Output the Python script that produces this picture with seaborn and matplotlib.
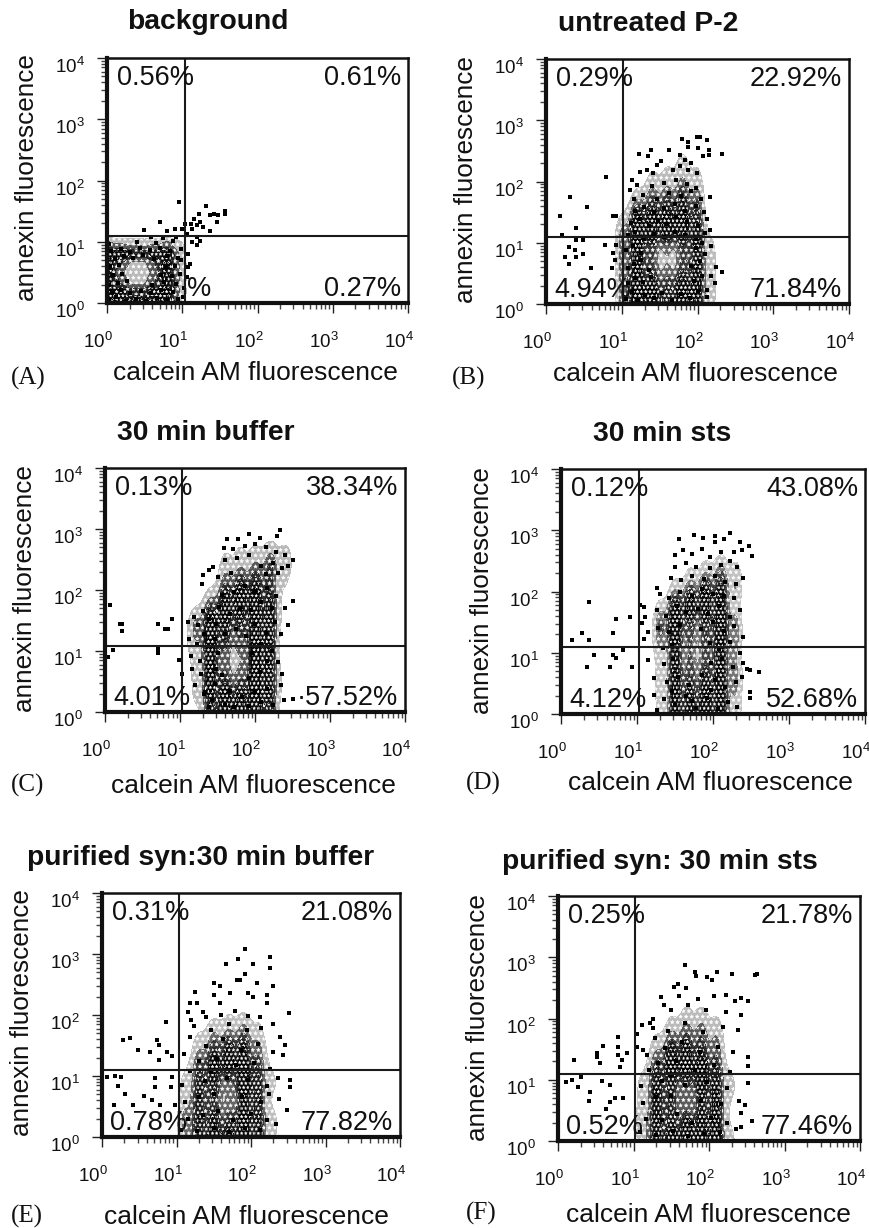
import numpy as np
import pandas as pd
import seaborn as sns
import matplotlib
matplotlib.use("Agg")
import matplotlib.pyplot as plt
from matplotlib.transforms import ScaledTranslation

# values are read from the picture, in channels: 100 channels = one log decade
# (calcein, annexin) for single events, the dense clouds also get a density grid

titoli = ["background", "untreated P-2", "30 min buffer", "30 min sts",
          "purified syn:30 min buffer", "purified syn: 30 min sts"]
lettere = ["(A)", "(B)", "(C)", "(D)", "(E)", "(F)"]

perc_ul = ["0.56%", "0.29%", "0.13%", "0.12%", "0.31%", "0.25%"]
perc_ur = ["0.61%", "22.92%", "38.34%", "43.08%", "21.08%", "21.78%"]
perc_ll = ["%", "4.94%", "4.01%", "4.12%", "0.78%", "0.52%"]
perc_lr = ["0.27%", "71.84%", "·57.52%", "52.68%", "77.82%", "77.46%"]

soglia_x = [104, 102, 103, 102, 103, 102]
soglia_y = [110, 109, 109, 110, 110, 109]

pts_a = [(96,165),(131,159),(157,151),(157,146),(142,146),(148,143),(137,143),(146,132),(122,146),(115,137),
         (124,132),(111,129),(119,127),(128,124),(104,129),(113,121),(137,118),(100,121),(91,121),(71,132),
         (80,118),(49,120),(106,113),(119,108),(124,102),(113,99),(119,94),(108,80),(110,64),(106,42),(108,59),
         (3,5),(12,9),(25,4),(38,7),(52,3),(66,8),(80,5),(94,6),(6,18),(18,22),(31,16),(45,20),(58,17),(72,22),(88,18),
         (2,30),(14,33),(27,36),(60,30),(76,34),(92,31),(8,45),(20,48),(72,46),(86,44),(97,47),(4,60),(16,62),
         (78,58),(90,61),(10,72),(22,76),(34,74),(48,78),(62,72),(80,76),(95,74),(5,85),(18,88),(30,84),(44,90),
         (57,86),(70,89),(84,85),(98,88),(2,97),(40,100),(65,98),(88,101),(75,106),(58,108),(92,108),(98,70),(102,25),(101,10)]
pts_b = [(79,207),(32,175),(54,159),(18,144),(40,124),(89,143),(93,143),(49,105),(31,93),(38,88),(25,77),(40,76),
         (49,82),(31,65),(59,58),(78,96),(89,83),(91,72),(87,58),(40,105),(21,113),(93,96),(216,175),(232,245),(216,121),
         (218,94),(225,61),(223,34),(218,45),(232,53),(212,23),(179,269),(188,265),(199,272),(203,273),(212,268),(201,254),
         (215,252),(215,244),(188,257),(177,244),(163,252),(139,252),(123,245),(135,241),(152,233),(146,227),(133,219),
         (124,215),(113,203),(111,186),(120,195),(141,214),(168,219),(177,225),(188,219),(199,214),(183,235),(192,230),(207,241),
         (106,8),(114,20),(122,6),(131,14),(142,9),(153,18),(166,6),(178,16),(190,10),(201,21),(212,12),(108,34),(118,42),(128,36),
         (139,44),(196,38),(206,46),(108,58),(116,66),(125,72),(136,56),(192,62),(203,70),(210,82),(105,88),(115,95),(126,84),(198,92),
         (206,100),(108,112),(118,118),(130,106),(142,114),(156,110),(170,118),(184,112),(198,106),(210,116),(112,132),(124,138),(136,128),
         (148,136),(160,130),(172,142),(186,134),(200,128),(212,138),(118,152),(130,158),(142,150),(156,156),(170,164),(184,152),(198,160),
         (208,150),(116,172),(128,178),(146,172),(162,182),(178,176),(192,184),(204,172),(140,192),(156,198),(172,202),(186,196),(198,190)]
pts_c = [(20,145),(22,145),(22,133),(70,145),(80,136),(84,136),(89,152),(70,104),(70,97),(11,101),(4,90),(7,176),(99,85),(102,63),
         (133,33),(238,19),(251,22),(244,142),(250,182),(233,298),(192,292),(162,283),(177,283),(207,286),(229,288),(158,269),(129,210),
         (131,224),(144,238),(138,232),(170,268),(186,272),(200,276),(214,270),(228,262),(240,258),(250,250),(244,240),(160,250),(176,252),
         (192,258),(208,240),(224,244),(236,236),(230,228),(214,226),(150,222),(168,228),(110,148),(118,156),(124,142),(130,166),(138,152),
         (112,120),(122,112),(132,128),(114,92),(126,84),(116,70),(128,62),(120,44),(132,30),(138,8),(142,20),(146,46),(148,70),(150,96),
         (146,120),(148,144),(152,172),(156,192),(160,12),(166,34),(172,8),(182,24),(192,10),(200,32),(208,16),(216,38),(224,12),(156,60),
         (192,56),(206,66),(216,84),(196,96),(208,112),(222,100),(160,128),(174,136),(188,124),(200,144),(214,130),(226,148),(166,160),
         (180,170),(194,168),(208,180),(222,170),(234,128),(230,82),(236,62),(172,196),(186,206),(200,198),(216,204),(228,190),(240,170),(235,45)]
pts_d = [(37,183),(72,155),(91,159),(28,133),(15,121),(37,121),(69,133),(81,105),(43,97),(69,96),(72,92),(34,77),(65,77),(93,77),
         (260,68),(249,72),(245,73),(249,36),(249,26),(155,285),(175,292),(187,288),(203,290),(203,281),(214,285),(223,296),(235,281),
         (248,275),(251,258),(238,267),(227,265),(104,178),(109,175),(111,159),(107,148),(126,205),(115,134),(109,123),(115,88),(122,58),
         (122,31),(126,7),(150,260),(160,268),(172,262),(186,270),(196,256),(210,264),(150,240),(164,246),(178,240),(196,238),(210,244),
         (222,250),(232,240),(145,222),(158,218),(172,226),(188,220),(202,226),(216,216),(230,212),(240,222),(130,196),(142,190),(156,200),
         (172,192),(186,204),(200,196),(214,192),(228,190),(126,170),(138,160),(152,176),(164,166),(180,172),(194,164),(208,176),(222,158),
         (236,170),(128,140),(142,134),(156,146),(184,138),(200,150),(214,136),(228,144),(240,126),(134,108),(146,112),(196,116),(208,106),
         (222,118),(236,100),(240,84),(136,82),(148,90),(198,84),(212,90),(226,76),(238,60),(140,52),(154,60),(168,48),(186,64),(202,56),
         (216,44),(230,52),(136,24),(150,14),(164,30),(178,10),(192,26),(206,8),(220,20),(232,12),(146,38),(172,22),(198,40)]
pts_e = [(28,159),(38,163),(48,142),(64,140),(74,159),(76,151),(86,189),(76,127),(87,140),(94,132),(7,99),(18,100),(25,98),(21,83),(31,71),
         (16,52),(42,52),(56,68),(67,60),(78,52),(98,52),(71,96),(71,82),(94,99),(92,82),(252,94),(252,82),(251,204),(248,44),(243,134),(239,164),
         (245,151),(230,186),(192,308),(182,292),(167,284),(203,284),(226,295),(226,277),(229,248),(192,268),(181,258),(185,258),(150,252),
         (158,247),(150,233),(125,237),(118,219),(127,219),(208,252),(221,233),(221,219),(172,236),(196,236),(203,230),(158,219),(116,205),(136,205),
         (106,12),(116,30),(112,58),(108,86),(118,108),(110,136),(118,164),(124,182),(128,10),(136,36),(130,66),(138,92),(130,124),(140,150),
         (146,176),(150,14),(156,42),(150,70),(146,106),(154,128),(162,160),(170,186),(170,8),(176,28),(168,96),(180,118),(186,142),(194,176),
         (192,14),(200,38),(188,66),(196,94),(204,122),(210,152),(214,178),(212,12),(222,28),(214,58),(222,84),(226,112),(230,140),(234,22),
         (238,62),(120,192),(140,196),(160,200),(178,206),(196,198),(212,196),(224,70),(236,96)]
pts_f = [(21,132),(51,143),(51,137),(59,155),(56,128),(79,170),(79,154),(79,140),(91,143),(85,132),(82,121),(18,99),(11,97),(31,104),(27,88),
         (43,80),(41,65),(58,98),(69,92),(75,70),(86,71),(69,64),(64,53),(261,271),(263,272),(168,287),(181,276),(183,269),(197,267),(210,276),
         (230,272),(204,263),(153,252),(159,257),(170,249),(137,235),(140,222),(252,228),(243,233),(234,228),(223,238),(243,205),(239,181),
         (252,137),(252,122),(252,94),(248,59),(243,45),(257,32),(243,23),(111,189),(122,192),(126,200),(126,184),(104,175),(104,154),(113,148),
         (108,14),(116,36),(112,62),(110,90),(120,116),(118,140),(128,168),(130,10),(138,34),(130,72),(138,98),(132,128),(142,152),(146,180),
         (150,214),(152,16),(158,44),(150,74),(148,108),(156,130),(164,162),(168,192),(172,222),(172,8),(178,30),(168,92),(182,116),(188,146),
         (192,178),(196,214),(194,12),(202,38),(190,66),(198,96),(206,124),(212,154),(218,186),(214,14),(224,30),(216,60),(224,86),(228,112),
         (232,146),(236,20),(240,66),(186,232),(160,236),(206,236),(222,210)]
punti = [pts_a, pts_b, pts_c, pts_d, pts_e, pts_f]

griglia_x = [[-20, 0, 20, 40, 60, 80, 100],
             [100, 120, 140, 160, 180, 200, 220, 240],
             [100, 120, 140, 160, 180, 200, 220, 240, 260],
             [110, 130, 150, 170, 190, 210, 230, 250],
             [110, 130, 150, 170, 190, 210, 230, 250],
             [110, 130, 150, 170, 190, 210, 230, 250]]
griglia_y = [[-20, 0, 20, 40, 60, 80, 100],
             [-30, 0, 30, 60, 90, 120, 150, 180, 210, 240, 270],
             [-30, 0, 30, 60, 90, 120, 150, 180, 210, 240, 270],
             [-30, 0, 30, 60, 90, 120, 150, 180, 210, 240, 270],
             [-30, 0, 30, 60, 90, 120, 150, 180, 210],
             [-30, 0, 30, 60, 90, 120, 150, 180, 210, 240]]
# darkness 0-9, first row = lowest annexin (pile-up on the axis)
dens_a = [[9,9,9,9,9,8,3],[9,9,9,9,9,9,5],[9,9,8,7,8,9,5],[9,9,6,4,6,9,5],[9,9,6,4,6,9,5],[9,9,9,8,8,9,5],[4,6,5,5,5,6,4]]
dens_b = [[4,7,7,5,7,6,2,0],[5,8,8,6,8,7,3,0],[5,8,7,6,8,7,3,0],[5,7,5,4,5,7,3,0],[5,7,5,4,5,7,3,0],[5,8,8,8,8,7,2,0],
          [2,7,7,7,7,6,0,0],[1,3,5,5,6,5,0,0],[0,1,3,3,4,3,0,0],[0,0,1,2,3,2,1,0],[0,0,0,0,1,1,0,0]]
dens_c = [[0,1,6,8,8,8,6,0,0],[0,2,7,9,9,9,7,1,0],[1,3,8,9,8,9,8,2,0],[1,3,9,6,5,9,8,2,0],[2,3,9,5,4,9,8,1,0],[1,5,9,7,6,9,8,1,0],
          [1,6,9,8,7,8,8,2,0],[0,1,6,9,9,9,8,2,0],[0,0,1,6,8,8,6,2,0],[0,0,1,4,4,5,7,6,1],[0,0,0,2,3,3,4,3,0]]
dens_d = [[0,2,7,7,8,7,3,0],[1,3,8,8,9,8,4,0],[1,3,8,7,8,8,4,1],[0,4,8,6,7,8,5,1],[1,3,7,5,5,8,4,0],[1,5,8,5,6,8,5,0],
          [1,6,9,6,6,9,5,0],[0,3,8,9,9,8,3,0],[0,0,3,5,7,7,5,1],[0,0,1,2,3,5,3,1],[0,0,0,1,1,1,1,0]]
dens_e = [[4,6,7,7,7,6,2,0],[5,7,8,8,8,7,3,0],[5,7,7,6,8,7,3,1],[4,7,6,4,7,7,2,0],[3,7,7,5,9,7,3,1],[2,6,8,8,8,6,2,0],
          [1,4,6,7,7,5,1,0],[0,2,4,4,5,3,0,0],[0,0,1,2,2,1,0,0]]
dens_f = [[3,6,7,7,7,7,2,0],[4,7,8,8,8,8,3,0],[4,7,6,7,7,7,2,0],[3,7,6,4,6,7,2,0],[3,7,6,5,7,7,3,1],[2,6,8,8,8,6,2,0],
          [1,4,7,7,6,5,1,0],[0,2,4,5,5,4,1,0],[0,0,2,3,3,2,0,0],[0,0,0,1,1,0,0,0]]
densita = [dens_a, dens_b, dens_c, dens_d, dens_e, dens_f]

# pixel boxes x0, x1, top, bottom
W, H = 869, 1228
box = [(107, 408, 58, 303), (546, 849, 59, 304), (105, 405, 468, 712),
       (561, 865, 469, 714), (102, 400, 893, 1137), (558, 860, 896, 1141)]
pos_titolo = [(208, 22), (648, 24), (206, 433), (662, 434), (201, 858), (660, 862)]
pos_xlab = [(255, 373), (695, 374), (253, 786), (710, 783), (246, 1217), (708, 1215)]
pos_ylab = [(27, 178), (466, 180), (25, 589), (482, 591), (22, 1013), (478, 1018)]
pos_lett = [(28, 378), (469, 378), (28, 785), (483, 783), (27, 1216), (481, 1213)]

sns.set_style("white")
plt.rcParams["font.family"] = ["Liberation Sans", "DejaVu Sans"]
plt.rcParams["mathtext.fontset"] = "custom"
plt.rcParams["mathtext.rm"] = "Liberation Sans"
plt.rcParams["hatch.linewidth"] = 0.3
plt.rcParams["hatch.color"] = "white"

fig = plt.figure(figsize=(W / 100, H / 100), dpi=100)

maggiori = [0, 100, 200, 300, 400]
minori = [d + 100 * np.log10(k) for d in [0, 100, 200, 300] for k in range(2, 10)]
etichette = [r"$\mathregular{10^{%d}}$" % i for i in range(5)]
punteggio = ["***", "***", "***", "****", "****", "****", "****"]
toni = sns.blend_palette(["#f0f0f0", "#a0a0a0", "#404040", "#0c0c0c", "#000000"], as_cmap=True)


def testo(xy, s, **kw):
    fig.text(xy[0] / W, 1 - xy[1] / H, s, ha="center", va="center", **kw)


for i in range(6):
    x0, x1, top, bottom = box[i]
    ax = fig.add_axes([x0 / W, 1 - bottom / H, (x1 - x0) / W, (bottom - top) / H])

    # the cloud: speckled underlay from the density grid
    griglia = pd.DataFrame(densita[i], index=griglia_y[i], columns=griglia_x[i])
    griglia = griglia.stack().reset_index()
    griglia.columns = ["annexin", "calcein", "peso"]
    griglia = griglia[griglia["peso"] > 0]
    sns.kdeplot(data=griglia, x="calcein", y="annexin", weights="peso", fill=True,
                cmap=toni, levels=7, thresh=0.1, bw_adjust=0.45,
                ax=ax, clip=((-40, 400), (-40, 400)))
    ax.collections[-1].hatches = punteggio

    # single events
    df = pd.DataFrame(punti[i], columns=["calcein", "annexin"])
    sns.scatterplot(data=df, x="calcein", y="annexin", marker="s", s=5, color="black",
                    linewidth=0, ax=ax, zorder=3, clip_on=True)

    ax.axvline(soglia_x[i], color="#1a1a1a", lw=1.5, zorder=4)
    ax.axhline(soglia_y[i], color="#1a1a1a", lw=1.5, zorder=4)

    ax.set_xlim(0, 400)
    ax.set_ylim(0, 400)
    ax.set_xticks(maggiori)
    ax.set_yticks(maggiori)
    ax.set_xticklabels(etichette, fontsize=13.5, color="#111111")
    ax.set_yticklabels(etichette, fontsize=13.5, color="#111111")
    ax.set_xticks(minori, minor=True)
    ax.set_yticks(minori, minor=True)
    ax.tick_params(which="major", length=7, width=1, color="#222222", bottom=True, left=True)
    ax.tick_params(which="minor", length=4, width=1, color="#444444", bottom=True, left=True)
    ax.tick_params(axis="x", which="major", pad=14)
    ax.tick_params(axis="y", which="major", pad=9)
    # labels sit a little off their ticks in the original
    for t in ax.get_xticklabels():
        t.set_transform(t.get_transform() + ScaledTranslation(-9 / 100, 0, fig.dpi_scale_trans))
    for t in ax.get_yticklabels():
        t.set_transform(t.get_transform() + ScaledTranslation(0, -7 / 100, fig.dpi_scale_trans))
    ax.set_xlabel("")
    ax.set_ylabel("")

    for lato in ["top", "right"]:
        ax.spines[lato].set_linewidth(1.8)
    for lato in ["left", "bottom"]:
        ax.spines[lato].set_linewidth(3)
    for lato in ax.spines:
        ax.spines[lato].set_color("#111111")
        ax.spines[lato].set_zorder(5)

    # percentages in the four quadrants
    fs = 19.5
    ax.text(13, 367, perc_ul[i], fontsize=fs, ha="left", va="center", color="#111111", zorder=6)
    ax.text(391, 367, perc_ur[i], fontsize=fs, ha="right", va="center", color="#111111", zorder=6)
    ax.text(106 if i == 0 else 11, 23, perc_ll[i], fontsize=fs, ha="left", va="center", color="#111111", zorder=6)
    ax.text(391, 23, perc_lr[i], fontsize=fs, ha="right", va="center", color="#111111", zorder=6)

    testo(pos_titolo[i], titoli[i], fontsize=20.3, fontweight="bold", color="#111111")
    testo(pos_xlab[i], "calcein AM fluorescence", fontsize=19, color="#111111")
    testo(pos_ylab[i], "annexin fluorescence", fontsize=18.8, rotation=90, color="#111111")
    testo(pos_lett[i], lettere[i], fontsize=18, family="Liberation Serif", color="#111111")

fig.savefig("out.png", dpi=100)
